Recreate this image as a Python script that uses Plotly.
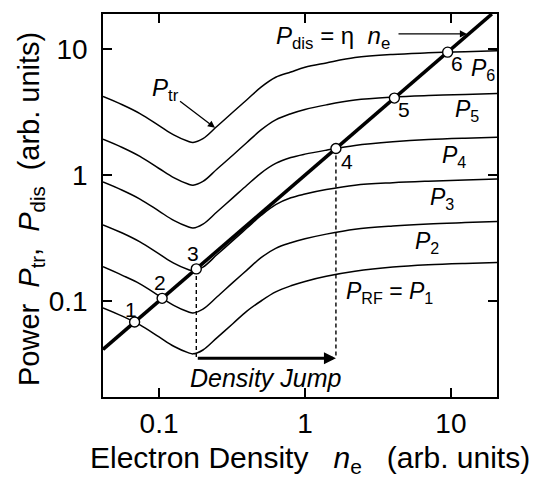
import math
import plotly.graph_objects as go

# ---------------- data ----------------
n_e = [0.0413, 0.056, 0.074, 0.1, 0.126, 0.158, 0.171, 0.2, 0.25, 0.32, 0.4,
       0.5, 0.63, 0.8, 1.0, 1.4, 2.2, 4.0, 7.0, 12.5, 20.7]

p6 = [4.22, 3.63, 3.09, 2.48, 2.09, 1.86, 1.82, 1.95, 2.45, 3.16, 3.98,
      5.01, 6.0, 6.6, 7.2, 7.8, 8.6, 9.12, 9.38, 9.59, 9.77]
p5 = [1.93, 1.66, 1.41, 1.13, 0.955, 0.850, 0.832, 0.891, 1.12, 1.44, 1.82,
      2.29, 2.75, 3.08, 3.33, 3.62, 3.95, 4.17, 4.29, 4.38, 4.46]
p4 = [0.882, 0.759, 0.646, 0.518, 0.437, 0.389, 0.380, 0.408, 0.512, 0.660, 0.832,
      1.04, 1.24, 1.38, 1.47, 1.58, 1.72, 1.84, 1.92, 1.97, 2.0]
p3 = [0.403, 0.347, 0.295, 0.237, 0.200, 0.178, 0.174, 0.186, 0.234, 0.302, 0.380,
      0.478, 0.583, 0.661, 0.708, 0.768, 0.832, 0.871, 0.896, 0.916, 0.933]
p2 = [0.187, 0.160, 0.137, 0.110, 0.0924, 0.0822, 0.0804, 0.0862, 0.108, 0.140, 0.176,
      0.221, 0.262, 0.290, 0.312, 0.340, 0.372, 0.395, 0.410, 0.420, 0.428]
p1 = [0.0882, 0.0759, 0.0646, 0.0518, 0.0437, 0.0389, 0.0380, 0.0408, 0.0512, 0.0660, 0.0832,
      0.100, 0.118, 0.132, 0.143, 0.157, 0.172, 0.186, 0.194, 0.199, 0.202]

curves = [p1, p2, p3, p4, p5, p6]

# P_dis = eta * n_e line (eta = 1 in these units)
dis_n = [0.0413, 19.1]
dis_p = [0.0413, 19.1]

# operating points 1..6 (on the P_dis line)
pt_n = [0.068, 0.105, 0.18, 1.63, 4.1, 9.5]
pt_p = [0.068, 0.105, 0.18, 1.63, 4.1, 9.5]
pt_labels = ["1", "2", "3", "4", "5", "6"]

jump_level = 0.0351  # level of the "Density Jump" arrow

x_ticks = [0.1, 1, 10]
x_ticktext = ["0.1", "1", "10"]
y_ticks = [0.1, 1, 10]
y_ticktext = ["0.1", "1", "10"]

# ---------------- figure ----------------
W, H = 536, 482
L, R, T, B = 103, 39, 12, 85
FONT = "Liberation Sans, Arial, sans-serif"


def px(x):
    return (x - L) / (W - L - R)


def py(y):
    return (H - B - y) / (H - T - B)


fig = go.Figure()

for c in curves:
    fig.add_trace(go.Scatter(x=n_e, y=c, mode="lines",
                             line=dict(color="black", width=1.5, shape="spline", smoothing=1.0),
                             hoverinfo="skip", showlegend=False))

fig.add_trace(go.Scatter(x=dis_n, y=dis_p, mode="lines",
                         line=dict(color="black", width=3.6),
                         hoverinfo="skip", showlegend=False))

# dashed verticals from point 3 and point 4
for i in (2, 3):
    fig.add_trace(go.Scatter(x=[pt_n[i], pt_n[i]], y=[pt_p[i], jump_level], mode="lines",
                             line=dict(color="black", width=1.4, dash="4px,3px"),
                             hoverinfo="skip", showlegend=False))

fig.add_trace(go.Scatter(x=pt_n, y=pt_p, mode="markers",
                         marker=dict(size=10, color="white", line=dict(color="black", width=1.4)),
                         hoverinfo="skip", showlegend=False))

ann = []


def label(x, y, text, size, **kw):
    d = dict(x=px(x), y=py(y), xref="paper", yref="paper", text=text,
             showarrow=False, xanchor="center", yanchor="middle",
             font=dict(family=FONT, size=size, color="black"))
    d.update(kw)
    ann.append(d)


# Density jump arrow
ann.append(dict(x=math.log10(pt_n[3]), y=math.log10(jump_level), xref="x", yref="y",
                ax=math.log10(pt_n[2]), ay=math.log10(jump_level), axref="x", ayref="y",
                showarrow=True, arrowhead=2, arrowsize=0.8, arrowwidth=3, arrowcolor="black",
                text=""))
label(266, 378, "<i>Density Jump</i>", 25)

# point numbers
num_pos = [(131, 309), (160, 282), (193, 253), (347, 160), (404, 108), (457, 62)]
for lab, (x, y) in zip(pt_labels, num_pos):
    label(x, y, lab, 21)

# curve labels
curve_labels = [
    ("<i>P</i><sub>RF</sub> = <i>P</i><sub>1</sub>", 389, 292),
    ("<i>P</i><sub>2</sub>", 427, 242),
    ("<i>P</i><sub>3</sub>", 442, 197),
    ("<i>P</i><sub>4</sub>", 454, 155),
    ("<i>P</i><sub>5</sub>", 467, 109),
    ("<i>P</i><sub>6</sub>", 483, 68),
]
for t, x, y in curve_labels:
    label(x, y, t, 23)

# P_dis label with arrow
label(333, 36, "<i>P</i><sub>dis</sub> = η  <i>n</i><sub>e</sub>", 24)
ann.append(dict(x=px(467), y=py(32), xref="paper", yref="paper",
                ax=-70, ay=0, showarrow=True, arrowhead=2, arrowsize=1.1, arrowwidth=1.3,
                arrowcolor="black", text="", xanchor="center", yanchor="middle"))

# P_tr label with arrow to the top curve
ann.append(dict(x=math.log10(0.242), y=math.log10(2.38), xref="x", yref="y",
                ax=-50, ay=-38, showarrow=True, arrowhead=2, arrowsize=1.1, arrowwidth=1.3,
                arrowcolor="black", text="<i>P</i><sub>tr</sub>",
                font=dict(family=FONT, size=24, color="black")))

# axis titles
label(310, 460, "Electron Density   <i>n</i><sub>e</sub>   (arb. units)", 30)
label(31, 208, "Power  <i>P</i><sub>tr</sub>,  <i>P</i><sub>dis</sub>  (arb. units)", 29,
      textangle=-90)

axis_common = dict(type="log", showgrid=False, zeroline=False, showline=True,
                   linecolor="black", linewidth=1.6, mirror="ticks", ticks="inside",
                   ticklen=9, tickwidth=1.5, tickcolor="black",
                   tickfont=dict(family=FONT, size=28, color="black"))

fig.update_layout(
    width=W, height=H,
    margin=dict(l=L, r=R, t=T, b=B),
    paper_bgcolor="white", plot_bgcolor="white",
    showlegend=False,
    xaxis=dict(range=[math.log10(0.0413), math.log10(20.7)], tickvals=x_ticks,
               ticktext=x_ticktext, ticklabelstandoff=1, **axis_common),
    yaxis=dict(range=[-1.763, 1.281], tickvals=y_ticks, ticktext=y_ticktext,
               ticklabelstandoff=8, **axis_common),
    annotations=ann,
)

fig.write_html("out.html")
